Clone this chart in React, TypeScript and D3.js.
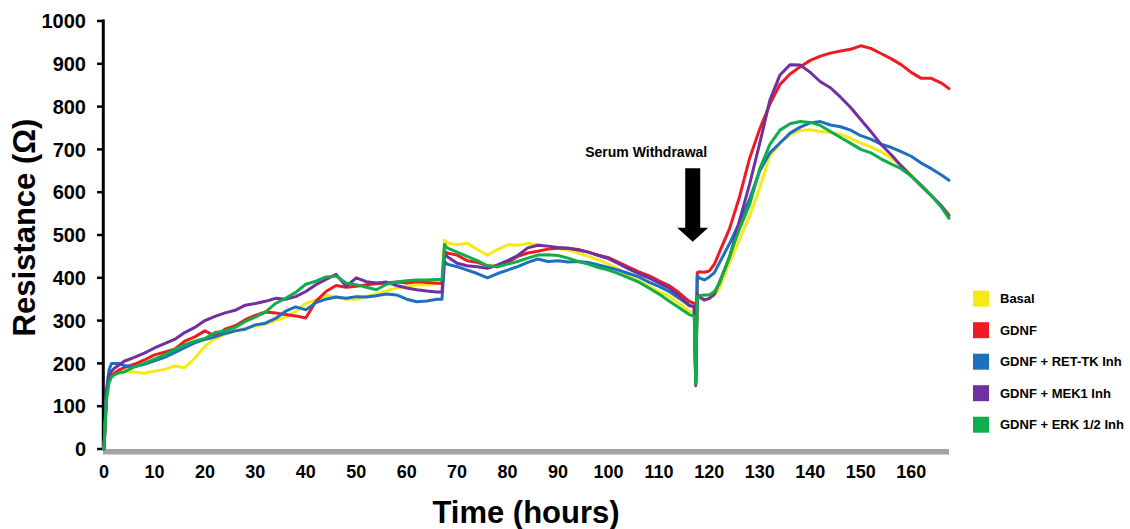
import React from 'react';
import * as d3 from 'd3';

// sample times (hours)
const hours = [
  0, 0.5, 1, 1.5, 2, 3, 4,
  6, 8, 10, 12, 14, 16, 18, 20, 22, 24, 26, 28, 30, 32, 34, 36, 38, 40, 42, 44, 46, 48, 50, 52, 54, 56, 58, 60, 62, 64, 66,
  67, 67.5, 68,
  70, 72, 74, 76, 78, 80, 82, 84, 86, 88, 90, 92, 94, 96, 98, 100, 102, 104, 106, 108, 110, 112, 114, 116,
  117, 117.3, 117.6, 118, 119, 120, 121,
  122, 124, 126, 128, 130, 132, 134, 136, 138, 140, 142, 144, 146, 148, 150, 152, 154, 156, 158, 160, 162, 164, 166,
  167.5,
];

// resistance (ohm) per condition
const basal = [
  0, 120, 160, 172, 178, 184, 182,
  180, 177, 182, 186, 194, 190, 212, 240, 258, 268, 276, 282, 288, 292, 300, 308, 322, 340, 348, 358, 355, 350, 350, 356, 362, 370, 376, 380, 383, 383, 386,
  386, 488, 482,
  477, 481, 466, 453, 466, 477, 476, 480, 478, 472, 468, 465, 458, 450, 442, 432, 420, 405, 393, 380, 368, 357, 340, 322,
  318, 155, 356, 352, 348, 352, 358,
  376, 435, 490, 545, 610, 685, 715, 735, 744, 746, 742, 739, 735, 726, 715, 706, 695, 680, 662, 640, 615, 592, 568,
  550,
];
const gdnf = [
  0, 125, 162, 172, 176, 185, 190,
  198, 208, 220, 226, 233, 252, 262, 276, 264, 280, 288, 302, 312, 320, 318, 314, 311, 306, 345, 368, 382, 378, 380, 384, 386, 388, 390, 388, 391, 389, 387,
  387, 462, 458,
  453, 440, 436, 428, 426, 436, 450, 458, 462, 467, 469, 469, 466, 460, 453, 447, 436, 425, 414, 405, 393, 382, 365, 345,
  340, 155, 412, 414, 413, 416, 432,
  460, 515, 590, 680, 748, 806, 852, 876, 893, 908, 918, 925, 930, 934, 942, 936, 924, 912, 898, 880, 866, 866, 855,
  842,
];
const retInh = [
  0, 140, 185, 200, 200, 200, 195,
  192, 198, 206, 214, 225, 237, 248, 256, 262, 270, 276, 280, 290, 294, 305, 322, 332, 325, 342, 350, 355, 352, 356, 355, 358, 362, 360, 350, 344, 346, 350,
  350, 438, 432,
  426, 418, 410, 400, 410, 418, 426, 436, 444, 438, 440, 437, 438, 436, 430, 424, 418, 410, 402, 390, 380, 368, 352, 336,
  332, 155, 405, 400, 395, 402, 412,
  435, 480, 530, 585, 650, 692, 715, 738, 752, 762, 765, 757, 753, 745, 732, 724, 712, 705, 695, 684, 668, 655, 640,
  628,
];
const mekInh = [
  0, 130, 170, 182, 188, 196, 205,
  214, 224, 236, 246, 256, 272, 284, 300, 310, 318, 324, 336, 340, 345, 352, 350, 356, 368, 384, 396, 408, 380, 400, 391, 388, 390, 382, 376, 372, 369, 367,
  367, 458, 450,
  434, 428, 426, 422, 430, 440, 452, 470, 476, 474, 471, 469, 465, 460, 452, 445, 433, 421, 410, 400, 388, 376, 358, 335,
  332, 148, 362, 356, 348, 352, 362,
  390, 448, 535, 620, 715, 815, 874, 898, 897, 880, 858, 844, 822, 798, 770, 742, 712, 688, 662, 638, 616, 592, 568,
  545,
];
const erkInh = [
  0, 115, 155, 168, 173, 178, 180,
  192, 200, 210, 220, 232, 244, 252, 258, 272, 276, 284, 298, 308, 320, 340, 352, 366, 385, 392, 402, 404, 388, 384, 378, 372, 385, 390, 393, 395, 395, 396,
  396, 478, 470,
  460, 450, 440, 428, 426, 432, 438, 446, 453, 454, 452, 446, 438, 432, 424, 418, 410, 400, 390, 376, 362, 346, 330, 314,
  310, 152, 356, 358, 360, 360, 368,
  387, 450, 515, 572, 655, 712, 745, 760, 765, 763, 756, 742, 728, 714, 700, 692, 678, 666, 655, 638, 614, 592, 565,
  539,
];

const seriesNames = ['Basal', 'GDNF', 'GDNF + RET-TK Inh', 'GDNF + MEK1 Inh', 'GDNF + ERK 1/2 Inh'];
const seriesValues = [basal, gdnf, retInh, mekInh, erkInh];
const seriesColors = ['#f5ea14', '#ed1c24', '#1c70bd', '#7030a0', '#10ad4b'];

const yTicks = [0, 100, 200, 300, 400, 500, 600, 700, 800, 900, 1000];
const xTicks = [0, 10, 20, 30, 40, 50, 60, 70, 80, 90, 100, 110, 120, 130, 140, 150, 160];

// serum withdrawal annotation (hour, from / to resistance)
const arrowHour = 116.7;
const arrowFrom = 656;
const arrowTo = 484;

const FONT = '"Liberation Sans", Arial, Helvetica, sans-serif';

export default function App() {
  const width = 1130;
  const height = 529;

  const x = d3.scaleLinear().domain([0, 167.5]).range([104, 949]);
  const y = d3.scaleLinear().domain([0, 1000]).range([449, 21]);
  const legendY = d3.scalePoint().domain(seriesNames).range([298.7, 424.7]);

  const line = d3
    .line<number>()
    .x((_, i) => x(hours[i]))
    .y((d) => y(d));

  const x0 = x(0);

  // arrow shape
  const ax = x(arrowHour);
  const aTop = y(arrowFrom);
  const aTip = y(arrowTo);
  const aHead = aTip - 14;
  const arrowPts = [
    [ax - 7.5, aTop],
    [ax + 7.5, aTop],
    [ax + 7.5, aHead],
    [ax + 15.5, aHead],
    [ax, aTip],
    [ax - 15.5, aHead],
    [ax - 7.5, aHead],
  ]
    .map((p) => p.join(','))
    .join(' ');

  return (
    <svg
      width={width}
      height={height}
      style={{ position: 'absolute', left: 0, top: 0, background: '#fff' }}
      fontFamily={FONT}
      fontWeight="bold"
    >
      {/* x axis bar */}
      <rect x={x0 - 1} y={y(0)} width={x(167.5) - x0 + 1} height={5.5} fill="#a3a3a3" />

      {/* y axis */}
      <line x1={x0 - 0.7} x2={x0 - 0.7} y1={y(1000) - 1.5} y2={y(0) + 1} stroke="#000" strokeWidth={3} />
      {yTicks.map((t) => (
        <g key={t}>
          <line x1={x0 - 7} x2={x0} y1={y(t)} y2={y(t)} stroke="#000" strokeWidth={2.5} />
          <text x={x0 - 18} y={y(t)} dy="0.36em" textAnchor="end" fontSize={20}>
            {t}
          </text>
        </g>
      ))}

      {xTicks.map((t) => (
        <text key={t} x={x(t)} y={478} textAnchor="middle" fontSize={18}>
          {t}
        </text>
      ))}

      {/* series */}
      {seriesValues.map((vals, i) => (
        <path
          key={seriesNames[i]}
          d={line(vals) || ''}
          fill="none"
          stroke={seriesColors[i]}
          strokeWidth={3}
          strokeLinejoin="round"
          strokeLinecap="round"
        />
      ))}

      {/* annotation */}
      <polygon points={arrowPts} fill="#000" />
      <text x={ax + 14.5} y={aTop - 11} textAnchor="end" fontSize={14}>
        Serum Withdrawal
      </text>

      {/* axis titles */}
      <text transform="translate(35,227.5) rotate(-90)" textAnchor="middle" fontSize={31}>
        Resistance (Ω)
      </text>
      <text x={526} y={523} textAnchor="middle" fontSize={31}>
        Time (hours)
      </text>

      {/* legend */}
      {seriesNames.map((name, i) => (
        <g key={name}>
          <rect x={973} y={(legendY(name) || 0) - 8} width={16} height={16} fill={seriesColors[i]} />
          <text x={1000} y={legendY(name) || 0} dy="0.35em" fontSize={13}>
            {name}
          </text>
        </g>
      ))}
    </svg>
  );
}
